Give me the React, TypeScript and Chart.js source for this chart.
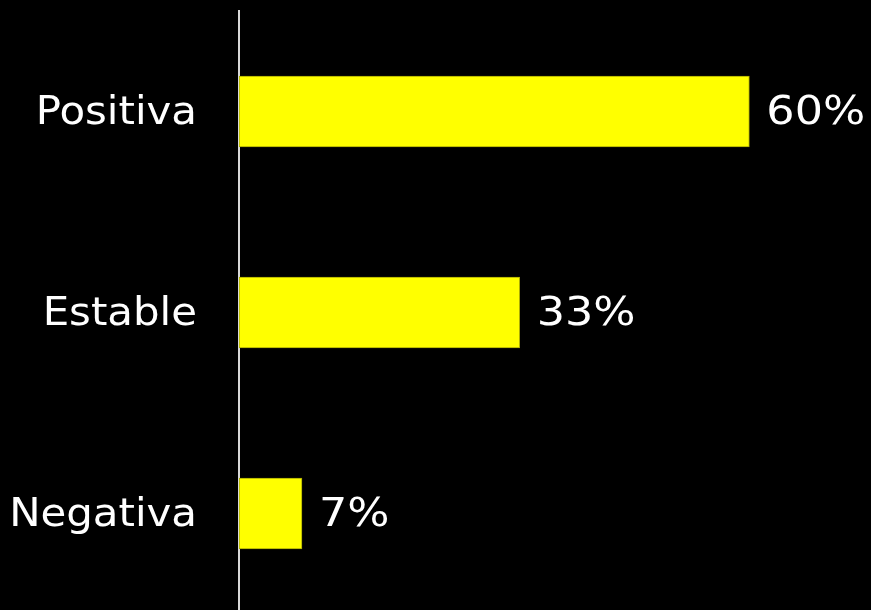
import React, { useEffect, useRef } from "react";
import { Chart, registerables } from "chart.js";

Chart.register(...registerables);

const categories = ["Positiva", "Estable", "Negativa"];
const values = [60, 33, 7.4];
const valueLabels = ["60%", "33%", "7%"];

const FONT = "'DejaVu Sans', Verdana, sans-serif";

export default function App() {
  const ref = useRef<HTMLCanvasElement | null>(null);
  useEffect(() => {
    document.body.style.margin = "0";
    document.body.style.background = "#000";
    document.body.style.overflow = "hidden";
    const drawStretched = (ctx: any, text: string, x: number, y: number, sx: number, align: string) => {
      ctx.save();
      ctx.translate(x, y);
      ctx.scale(sx, 1);
      ctx.textAlign = align;
      ctx.fillText(text, 0, 0);
      ctx.restore();
    };
    const labelPlugin = {
      id: "valueLabels",
      afterDatasetsDraw(chart: any) {
        const ctx = chart.ctx;
        const meta = chart.getDatasetMeta(0);
        const yScale = chart.scales.y;
        ctx.save();
        ctx.fillStyle = "#ffffff";
        ctx.font = `39px ${FONT}`;
        ctx.textBaseline = "middle";
        meta.data.forEach((el: any, i: number) => {
          drawStretched(ctx, valueLabels[i], el.x + 17, el.y + 2, 1.14, "left");
        });
        categories.forEach((c, i) => {
          const y = yScale.getPixelForValue(i);
          drawStretched(ctx, c, chart.chartArea.left - 42, y + 2, 1.074, "right");
        });
        ctx.restore();
      },
    };
    const chart = new Chart(ref.current!, {
      type: "bar",
      data: {
        labels: categories,
        datasets: [
          {
            data: values,
            backgroundColor: "#ffff00",
            borderColor: "#a8a800",
            borderWidth: 1,
            borderSkipped: false,
            barThickness: 71,
          },
        ],
      },
      options: {
        indexAxis: "y",
        responsive: false,
        animation: false,
        devicePixelRatio: 1,
        layout: { padding: { top: 11, right: 0, bottom: 0, left: 0 } },
        plugins: { legend: { display: false }, tooltip: { enabled: false } },
        scales: {
          x: {
            display: false,
            min: 0,
            max: 74.3,
          },
          y: {
            afterFit(scale: any) {
              scale.width = 239;
              scale.paddingTop = 0;
              scale.paddingBottom = 0;
            },
            grid: { display: false, drawTicks: false },
            border: { display: true, color: "#d9d9d9", width: 2 },
            ticks: {
              display: false,
              padding: 0,
            },
          },
        },
      },
      plugins: [labelPlugin],
    });
    return () => chart.destroy();
  }, []);
  return (
    <div style={{ background: "#000", width: 871, height: 610, overflow: "hidden" }}>
      <canvas ref={ref} width={871} height={614} style={{ display: "block" }} />
    </div>
  );
}
